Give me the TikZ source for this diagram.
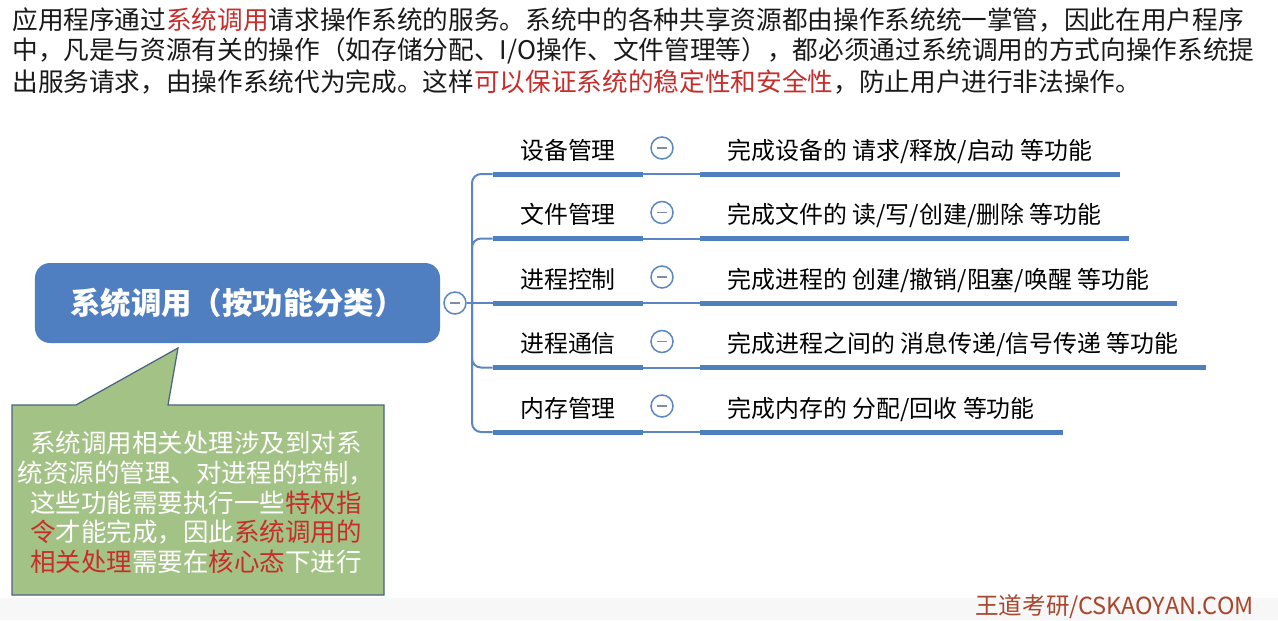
\documentclass[tikz,border=0pt]{standalone}
\usepackage{fontspec}
\setmainfont{Noto Sans CJK SC}
\usetikzlibrary{positioning}
\definecolor{mapblue}{HTML}{4F7FC0}
\definecolor{linkblue}{HTML}{5A86C4}
\definecolor{notegreen}{HTML}{A3C285}
\definecolor{noteedge}{HTML}{4A6480}
\definecolor{alert}{HTML}{C62D2B}
\definecolor{minusgrey}{HTML}{7F8CA3}
\definecolor{brand}{HTML}{A8452A}
\definecolor{footgrey}{HTML}{F7F7F7}
\tikzset{
  intro/.style={anchor=west, inner sep=0pt, font=\fontsize{14.6}{17.5}\selectfont, text=black!90},
  rootbox/.style={fill=mapblue, rounded corners=3mm, minimum width=81mm, minimum height=16mm,
                  text=white, font=\fontsize{17.3}{20}\selectfont\bfseries},
  fold/.style={circle, draw=linkblue, line width=0.3mm, fill=white, minimum size=4.4mm, inner sep=0pt,
               path picture={\draw[minusgrey, line width=0.35mm]
                 ([xshift=-1mm]path picture bounding box.center) -- ([xshift=1mm]path picture bounding box.center);}},
  topic/.style={anchor=south, minimum width=30mm, inner ysep=2.4mm, text height=0.85em, text depth=0.15em,
                font=\fontsize{13.6}{16}\selectfont},
  detail/.style={anchor=south west, inner xsep=5.5mm, inner ysep=2.4mm, text height=0.85em, text depth=0.15em,
                 font=\fontsize{13.6}{16}\selectfont},
  bar/.style={line width=1mm, mapblue},
  link/.style={line width=0.4mm, linkblue},
  notetext/.style={align=center, text=white, font=\fontsize{14.5}{16.9}\selectfont},
}

\begin{document}
\begin{tikzpicture}[x=0.2mm, y=-0.2mm]
  \useasboundingbox (0,0) rectangle (1278,620);
  \clip (0,0) rectangle (1278,620);
  \fill[footgrey] (0,598) rectangle (1278,620);

  % intro paragraph
  \node[intro] (l1) at (12,20) {应用程序通过\textcolor{alert}{系统调用}请求操作系统的服务。系统中的各种共享资源都由操作系统统一掌管，因此在用户程序};
  \node[intro] (l2) at (12,51) {中，凡是与资源有关的操作（如存储分配、I/O操作、文件管理等），都必须通过系统调用的方式向操作系统提};
  \node[intro] (l3) at (12,82) {出服务请求，由操作系统代为完成。这样\textcolor{alert}{可以保证系统的稳定性和安全性}，防止用户进行非法操作。};

  % mind map
  \node[rootbox] (root) at (237.5,303) {系统调用（按功能分类）};
  \node[fold] (rootfold) at (455,303) {};
  \coordinate (fork) at (472,303);

  \node[topic] (dev) at (568,174) {设备管理};
  \node[fold] (devfold) at (662,148) {};
  \node[detail] (devtxt) at (700,174) {完成设备的 请求/释放/启动 等功能};

  \node[topic] (file) at (568,238.5) {文件管理};
  \node[fold] (filefold) at (662,212.5) {};
  \node[detail] (filetxt) at (700,238.5) {完成文件的 读/写/创建/删除 等功能};

  \node[topic] (proc) at (568,303) {进程控制};
  \node[fold] (procfold) at (662,277) {};
  \node[detail] (proctxt) at (700,303) {完成进程的 创建/撤销/阻塞/唤醒 等功能};

  \node[topic] (ipc) at (568,367.5) {进程通信};
  \node[fold] (ipcfold) at (662,341.5) {};
  \node[detail] (ipctxt) at (700,367.5) {完成进程之间的 消息传递/信号传递 等功能};

  \node[topic] (mem) at (568,432) {内存管理};
  \node[fold] (memfold) at (662,406) {};
  \node[detail] (memtxt) at (700,432) {完成内存的 分配/回收 等功能};

  \draw[link] (rootfold) -- (proc.south west);
  \draw[link, rounded corners=1.8mm] (dev.south west) -| (fork) |- (mem.south west);
  \draw[link, rounded corners=1.8mm] (file.south west) -| (fork) |- (ipc.south west);

  \draw[bar] (dev.south west) -- (dev.south east); \draw[link] (dev.south east) -- (devtxt.south west);
  \draw[bar] (devtxt.south west) -- (devtxt.south east);
  \draw[bar] (file.south west) -- (file.south east); \draw[link] (file.south east) -- (filetxt.south west);
  \draw[bar] (filetxt.south west) -- (filetxt.south east);
  \draw[bar] (proc.south west) -- (proc.south east); \draw[link] (proc.south east) -- (proctxt.south west);
  \draw[bar] (proctxt.south west) -- (proctxt.south east);
  \draw[bar] (ipc.south west) -- (ipc.south east); \draw[link] (ipc.south east) -- (ipctxt.south west);
  \draw[bar] (ipctxt.south west) -- (ipctxt.south east);
  \draw[bar] (mem.south west) -- (mem.south east); \draw[link] (mem.south east) -- (memtxt.south west);
  \draw[bar] (memtxt.south west) -- (memtxt.south east);

  % callout
  \draw[noteedge, fill=notegreen, line width=0.25mm] (12,405) -- (76,405) -- (178,348) -- (168,405)
    -- (384,405) -- (384,595) -- (12,595) -- cycle;
  \node[notetext] (note) at (196,502.5) {系统调用相关处理涉及到对系\\统资源的管理、对进程的控制，\\这些功能需要执行一些\textcolor{alert}{特权指}\\\textcolor{alert}{令}才能完成，因此\textcolor{alert}{系统调用的}\\\textcolor{alert}{相关处理}需要在\textcolor{alert}{核心态}下进行};

  \node[anchor=west, inner sep=0pt, text=brand, font=\fontsize{13.4}{16}\selectfont] (brand) at (975,607) {王道考研/CSKAOYAN.COM};
\end{tikzpicture}
\end{document}
